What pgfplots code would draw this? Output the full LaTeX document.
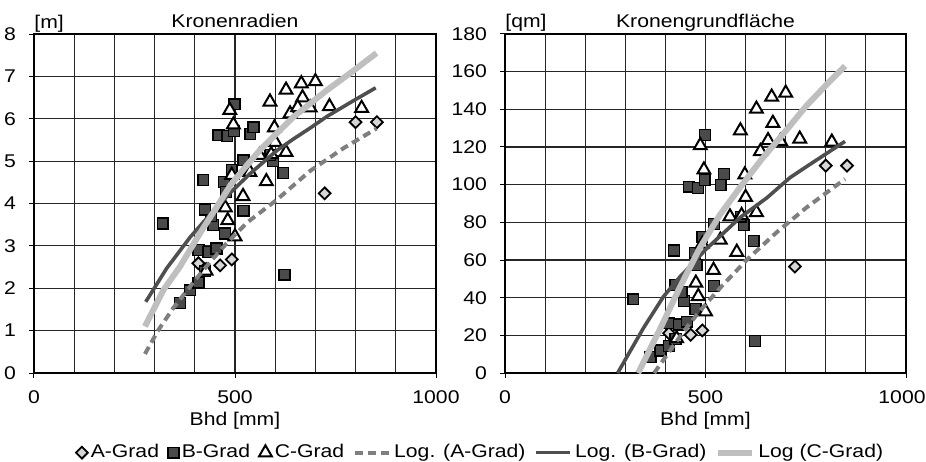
\documentclass[border=0pt]{standalone}
\usepackage{fontspec}
\setmainfont{Liberation Sans}[FakeStretch=1.15]
\usepackage{pgfplots}
\pgfplotsset{compat=1.18}

\definecolor{lineA}{HTML}{7F7F7F}
\definecolor{lineB}{HTML}{4F4F4F}
\definecolor{lineC}{HTML}{BFBFBF}
\definecolor{fillA}{HTML}{D6D6D6}
\definecolor{fillB}{HTML}{4A4A4A}
\definecolor{gridc}{HTML}{262626}

\pgfplotsset{
  crown/.style={
    scale only axis,
    height=169.5pt,
    xmin=0, xmax=1000,
    xtick={0,500,1000},
    minor xtick={100,200,300,400,600,700,800,900},
    grid=both,
    major grid style={draw=gridc,line width=0.55pt},
    minor grid style={draw=gridc,line width=0.55pt},
    axis line style={line width=0.6pt},
    tick pos=left,
    tick align=outside,
    major tick length=2.5pt,
    minor tick length=0pt,
    tick style={black,line width=0.5pt},
    /pgf/number format/assume math mode=true,
    /pgf/number format/1000 sep={},
    xticklabel style={anchor=base,yshift=-12.8pt},
    yticklabel style={xshift=-3pt},
    xlabel={Bhd [mm]},
    xlabel style={at={(axis description cs:0.5,0)},anchor=base,yshift=-26pt},
    clip mode=individual,
  },
  gradA/.style={only marks,mark=square*,mark size=2.1pt,
    mark options={rotate=45,fill=fillA,draw=black,line width=0.9pt}},
  gradB/.style={only marks,mark=square*,mark size=2.7pt,
    mark options={fill=fillB,draw=black,line width=0.7pt}},
  gradC/.style={only marks,mark=triangle*,mark size=3.7pt,
    mark options={fill=white,draw=black,line width=1pt}},
  logA/.style={no marks,draw=lineA,line width=2pt,dash pattern=on 4pt off 2.5pt},
  logB/.style={no marks,draw=lineB,line width=1.8pt},
  logC/.style={no marks,draw=lineC,line width=3pt},
  markleg/.style={legend image code/.code={
    \draw[mark repeat=2,mark phase=2,##1] plot coordinates {(-3pt,0pt) (0pt,0pt) (3pt,0pt)};}},
  lineleg/.style={legend image code/.code={
    \draw[##1] (0pt,0pt) -- (17pt,0pt);}},
}

\begin{document}
\begin{tikzpicture}[font=\fontsize{9.2}{11}\selectfont]
\useasboundingbox (0,0) rectangle (463pt,230.5pt);

% Kronenradien
\begin{axis}[crown, at={(17pt,44pt)}, anchor=south west, width=201pt,
  ymin=0, ymax=8, ytick={0,1,...,8},
  legend style={draw=none,fill=none,at={(1.112,-0.235)},anchor=center,
    legend columns=6,
    /tikz/every even column/.append style={column sep=3pt},
    nodes={inner xsep=1.5pt,inner ysep=0pt}}]
\addplot[gradA,markleg] coordinates {
  (409,2.59) (463,2.54) (492,2.68) (723,4.24) (800,5.92) (853,5.92)};
\addplot[gradB,markleg] coordinates {
  (320,3.53) (363,1.65) (388,1.95) (409,2.13) (425,2.40) (409,2.90) (434,2.86)
  (454,2.94) (475,3.29) (446,3.49) (440,3.70) (425,3.86) (521,3.83) (421,4.55)
  (473,4.51) (478,4.27) (492,4.80) (521,5.02) (595,5.00) (588,5.14) (620,4.72)
  (623,2.32) (459,5.61) (481,5.59) (498,5.71) (538,5.64) (546,5.80) (499,6.34)};
\addplot[gradC,markleg] coordinates {
  (428,2.41) (500,3.22) (482,3.60) (476,3.90) (520,4.17) (492,4.67) (537,4.74)
  (578,4.52) (561,5.14) (590,5.16) (627,5.21) (600,5.45) (598,5.79) (487,6.20)
  (496,5.86) (587,6.40) (627,6.68) (665,6.83) (700,6.88) (668,6.50) (637,6.12)
  (656,6.27) (687,6.26) (735,6.29) (815,6.25)};
\addplot[logA,lineleg] coordinates {
  (276,0.45) (309,1.01) (347,1.54) (405,2.24) (441,2.65) (479,3.06) (530,3.55)
  (603,4.08) (687,4.77) (769,5.30) (852,5.77)};
\addplot[logB,lineleg] coordinates {
  (278,1.68) (330,2.47) (388,3.20) (440,3.76) (488,4.25) (537,4.70) (604,5.25)
  (645,5.52) (690,5.80) (728,6.05) (790,6.40) (850,6.73)};
\addplot[logC,lineleg] coordinates {
  (276,1.10) (322,1.96) (363,2.51) (413,3.30) (450,3.85) (490,4.45) (525,4.85)
  (562,5.26) (612,5.73) (645,6.04) (690,6.38) (728,6.67) (790,7.10) (852,7.55)};
\legend{A-Grad,B-Grad,C-Grad,Log. (A-Grad),Log. (B-Grad),Log (C-Grad)}
\node[anchor=base,yshift=3.3pt] at (rel axis cs:0.5,1) {Kronenradien};
\node[anchor=base west,inner sep=0pt,yshift=3pt] at (rel axis cs:0,1) {[m]};
\end{axis}

% Kronengrundflaeche
\begin{axis}[crown, at={(252.5pt,44pt)}, anchor=south west, width=200.5pt,
  ymin=0, ymax=180, ytick={0,20,...,180},
  xticklabels={0,500,\kern-4pt 1000}]
\addplot[gradA] coordinates {
  (409,21.1) (463,20.3) (492,22.6) (723,56.5) (800,110.1) (853,110.1)};
\addplot[gradB] coordinates {
  (320,39.1) (363,8.6) (388,11.9) (409,14.3) (425,18.1) (409,26.4) (434,25.7)
  (454,27.2) (475,34.0) (446,38.3) (440,43.0) (425,46.8) (521,46.1) (421,65.0)
  (473,63.9) (478,57.3) (492,72.4) (521,79.2) (595,78.5) (588,83.0) (620,70.0)
  (623,16.9) (459,98.9) (481,98.2) (498,102.4) (538,99.9) (546,105.7) (499,126.3)};
\addplot[gradC] coordinates {
  (428,18.3) (500,32.6) (482,40.7) (476,47.8) (520,54.6) (492,68.5) (537,70.6)
  (578,64.2) (561,83.0) (590,83.7) (627,85.3) (600,93.3) (598,105.3) (487,120.8)
  (496,107.9) (587,128.7) (627,140.2) (665,146.6) (700,148.7) (668,132.7) (637,117.7)
  (656,123.5) (687,123.1) (735,124.3) (815,122.7)};
\addplot[logA] coordinates {
  (372,0) (407,10.6) (445,21.9) (486,33.0) (540,46.0) (603,60.1) (678,74.8)
  (752,87.9) (848,103.0)};
\addplot[logB] coordinates {
  (281,0) (345,23.8) (395,40.5) (436,51.0) (470,58.5) (500,65.5) (561,77.5)
  (586,82.5) (653,93.0) (711,103.8) (752,109.6) (848,123.0)};
\addplot[logC] coordinates {
  (332,0) (387,23.5) (436,45.5) (486,66.5) (536,84.0) (586,98.5) (640,113.5)
  (700,128.5) (752,142.0) (800,152.7) (848,163.0)};
\node[anchor=base,yshift=3.3pt] at (rel axis cs:0.5,1) {Kronengrundfläche};
\node[anchor=base west,inner sep=0pt,yshift=3pt] at (rel axis cs:0,1) {[qm]};
\end{axis}
\end{tikzpicture}
\end{document}
